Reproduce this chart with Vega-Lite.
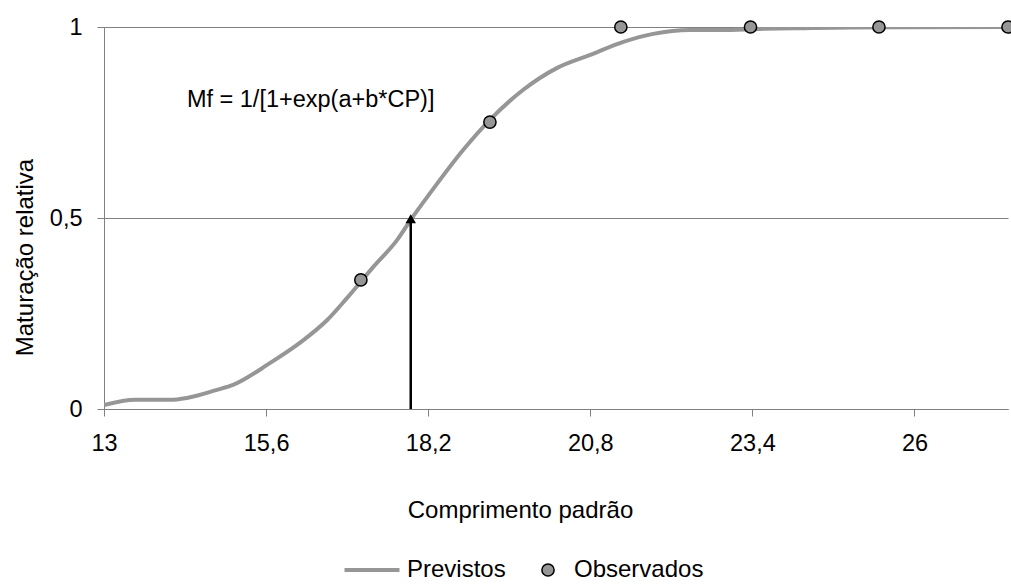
{
  "$schema": "https://vega.github.io/schema/vega-lite/v6.json",
  "width": 904,
  "height": 382,
  "autosize": {"type": "none"},
  "padding": {"left": 104, "top": 27, "right": 3, "bottom": 175},
  "background": "white",
  "config": {
    "view": {"stroke": null},
    "font": "Liberation Sans",
    "axis": {"labelFont": "Liberation Sans", "titleFont": "Liberation Sans", "labelColor": "black", "titleColor": "black", "titleFontWeight": "normal", "labelFontSize": 23.5, "titleFontSize": 24},
    "legend": {"labelFont": "Liberation Sans", "labelFontSize": 24, "labelColor": "black", "padding": 0}
  },
  "datasets": {
    "curve": [
      {"cp": 13.0, "mf": 0.010},
      {"cp": 13.5, "mf": 0.024},
      {"cp": 14.06, "mf": 0.024},
      {"cp": 14.33, "mf": 0.029},
      {"cp": 14.81, "mf": 0.050},
      {"cp": 15.07, "mf": 0.063},
      {"cp": 15.66, "mf": 0.120},
      {"cp": 16.14, "mf": 0.173},
      {"cp": 16.58, "mf": 0.233},
      {"cp": 16.9, "mf": 0.291},
      {"cp": 17.32, "mf": 0.372},
      {"cp": 17.7, "mf": 0.442},
      {"cp": 17.94, "mf": 0.500},
      {"cp": 18.23, "mf": 0.565},
      {"cp": 18.76, "mf": 0.678},
      {"cp": 19.19, "mf": 0.757},
      {"cp": 19.72, "mf": 0.835},
      {"cp": 20.27, "mf": 0.893},
      {"cp": 20.8, "mf": 0.927},
      {"cp": 21.33, "mf": 0.961},
      {"cp": 21.81, "mf": 0.982},
      {"cp": 22.4, "mf": 0.992},
      {"cp": 22.88, "mf": 0.992},
      {"cp": 23.52, "mf": 0.995},
      {"cp": 24.16, "mf": 0.997},
      {"cp": 24.97, "mf": 0.999},
      {"cp": 27.5, "mf": 1.0}
    ],
    "obs": [
      {"cp": 17.12, "mf": 0.338},
      {"cp": 19.19, "mf": 0.751},
      {"cp": 21.29, "mf": 1.0},
      {"cp": 23.37, "mf": 1.0},
      {"cp": 25.43, "mf": 1.0},
      {"cp": 27.5, "mf": 1.0}
    ],
    "arrow": [
      {"cp": 17.92, "mf": 0.0, "mf2": 0.5}
    ],
    "head": [
      {"cp": 17.92, "mf": 0.498}
    ],
    "note": [
      {"cp": 14.33, "mf": 0.809, "label": "Mf = 1/[1+exp(a+b*CP)]"}
    ]
  },
  "encoding": {
    "x": {
      "field": "cp", "type": "quantitative",
      "scale": {"domain": [13, 27.5], "nice": false, "zero": false},
      "axis": {
        "title": "Comprimento padrão",
        "values": [13, 15.6, 18.2, 20.8, 23.4, 26],
        "labelExpr": "replace(format(datum.value, '~g'), '.', ',')",
        "grid": false,
        "domainColor": "#808080", "tickColor": "#808080", "tickSize": 7,
        "labelPadding": 15, "labelFlush": false, "labelOverlap": false,
        "titleX": 416, "titleAlign": "center", "titleAnchor": null,
        "titleY": 101, "titleBaseline": "middle"
      }
    },
    "y": {
      "field": "mf", "type": "quantitative",
      "scale": {"domain": [0, 1], "nice": false},
      "axis": {
        "title": "Maturação relativa",
        "values": [0, 0.5, 1],
        "labelExpr": "replace(format(datum.value, '~g'), '.', ',')",
        "grid": true, "gridColor": "#808080", "gridWidth": 1,
        "domainColor": "#808080", "tickColor": "#808080", "tickSize": 7,
        "labelPadding": 15, "labelFlush": false,
        "titleX": -79, "titleY": 230, "titleAlign": "center", "titleBaseline": "middle"
      }
    }
  },
  "layer": [
    {
      "data": {"name": "curve"},
      "mark": {"type": "line", "strokeWidth": 4, "interpolate": "monotone", "clip": true},
      "encoding": {
        "stroke": {
          "datum": "Previstos",
          "scale": {"range": ["#969696"]},
          "legend": {"title": null, "orient": "none", "legendX": 256, "legendY": 531, "symbolType": "M-5,0H5", "symbolSize": 121, "symbolStrokeWidth": 4, "symbolFillColor": "transparent", "labelOffset": 23}
        }
      }
    },
    {
      "data": {"name": "arrow"},
      "mark": {"type": "rule", "color": "black", "strokeWidth": 2.5},
      "encoding": {"y2": {"field": "mf2"}}
    },
    {
      "data": {"name": "head"},
      "mark": {"type": "point", "shape": "triangle-up", "filled": true, "color": "black", "size": 110, "opacity": 1},
      "encoding": {}
    },
    {
      "data": {"name": "obs"},
      "mark": {"type": "point", "shape": "circle", "filled": true, "stroke": "black", "strokeWidth": 1.5, "size": 150, "opacity": 1},
      "encoding": {
        "fill": {
          "datum": "Observados",
          "scale": {"range": ["#969696"]},
          "legend": {"title": null, "orient": "none", "legendX": 432, "legendY": 531, "symbolType": "circle", "symbolSize": 150, "symbolStrokeColor": "black", "symbolStrokeWidth": 1.5, "symbolOpacity": 1, "labelOffset": 14}
        }
      }
    },
    {
      "data": {"name": "note"},
      "mark": {"type": "text", "align": "left", "baseline": "middle", "fontSize": 23.5, "font": "Liberation Sans", "color": "black"},
      "encoding": {"text": {"field": "label"}}
    }
  ]
}
